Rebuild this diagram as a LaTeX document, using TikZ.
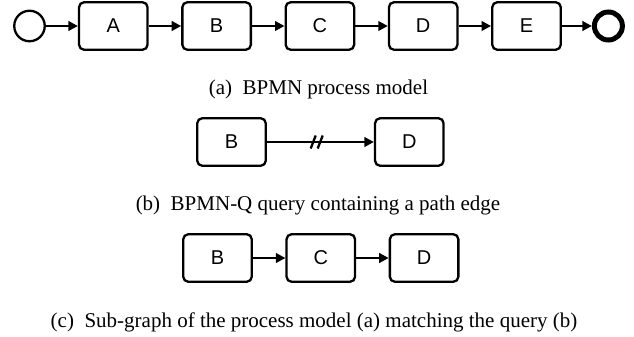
\documentclass[tikz,border=0pt]{standalone}
\usepackage{fontspec}
\setmainfont{Liberation Serif}
\newfontfamily\boxfont{Liberation Sans}
\usetikzlibrary{positioning, arrows.meta}

\begin{document}
\begin{tikzpicture}[x=1pt, y=-1pt, >={Triangle[length=9.5pt, width=9.5pt]}, node distance=32.5pt, line width=2.3pt,
  task/.style={rectangle, rounded corners=5pt, draw, minimum width=68.5pt, minimum height=47.5pt, font=\boxfont\fontsize{20}{22}\selectfont},
  startev/.style={circle, draw, minimum size=30.5pt, inner sep=0pt},
  endev/.style={circle, draw, line width=5pt, minimum size=28pt, inner sep=0pt},
  caption/.style={font=\fontsize{21}{24}\selectfont, inner sep=0pt}]
  \useasboundingbox (0,0) rectangle (634,337);

  % (a) process model
  \node[startev]  (s)                   at (29.5,26) {};
  \node[task]     (a)  [right=32pt of s]  {A};
  \node[task]     (b)  [right=of a]       {B};
  \node[task]     (c)  [right=of b]       {C};
  \node[task]     (d)  [right=of c]       {D};
  \node[task]     (e)  [right=of d]       {E};
  \node[endev]    (t)  [right=30pt of e]  {};
  \node[caption]  (capa) at (318.5,89) {(a)\enspace BPMN process model};

  \path[->]
        (s) edge (a)
        (a) edge (b)
        (b) edge (c)
        (c) edge (d)
        (d) edge (e)
        (e) edge (t);

  % (b) query with a path edge
  \node[task]     (qb)                  at (231.5,142) {B};
  \node[task]     (qd) [right=107pt of qb] {D};
  \node[caption]  (capb) at (318,205) {(b)\enspace BPMN-Q query containing a path edge};

  \draw[->] (qb) -- coordinate[pos=0.47] (m) (qd);
  \draw ([shift={(-6.5,6.5)}]m) -- ([shift={(-1.5,-6.5)}]m)
        ([shift={(0.5,6.5)}]m) -- ([shift={(5.5,-6.5)}]m);

  % (c) matching sub-graph
  \node[task]     (mb)                  at (217.5,258) {B};
  \node[task]     (mc) [right=of mb]    {C};
  \node[task]     (md) [right=of mc]    {D};
  \node[caption]  (capc) at (314,322) {(c)\enspace Sub-graph of the process model (a) matching the query (b)};

  \path[->]
        (mb) edge (mc)
        (mc) edge (md);
\end{tikzpicture}
\end{document}
